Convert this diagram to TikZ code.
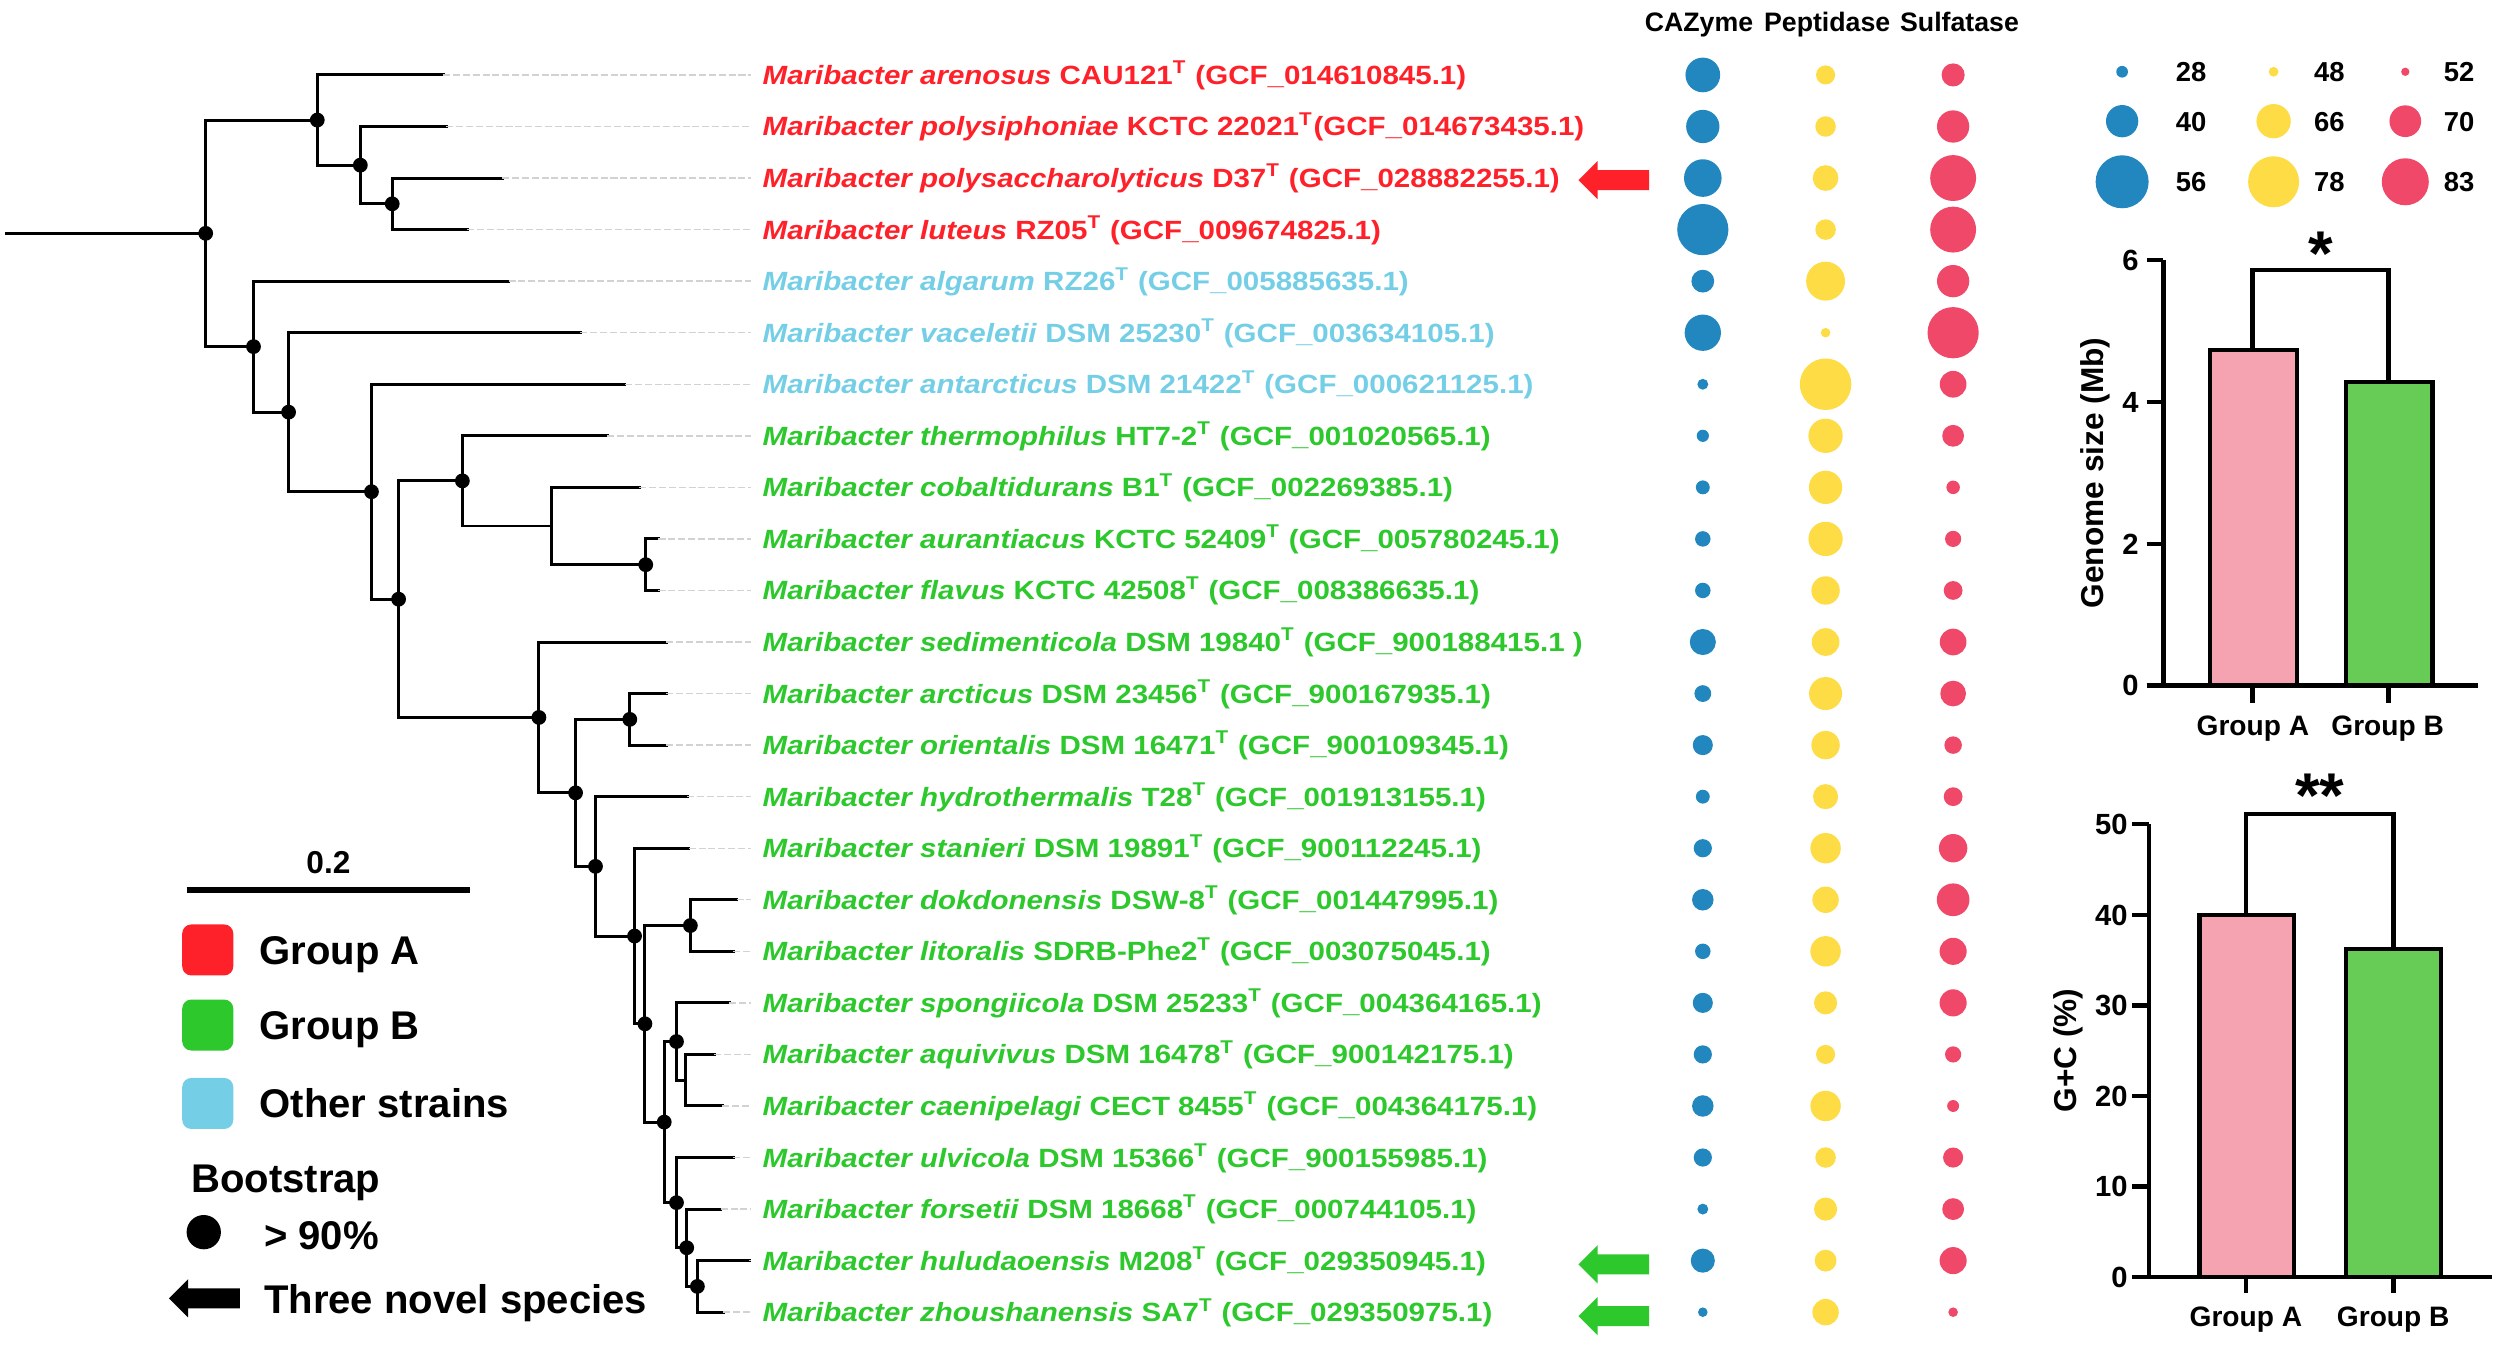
\documentclass[tikz,border=0pt]{standalone}
\usepackage{fontspec}
\setmainfont{Liberation Sans}
\newfontfamily\taxfont[FakeStretch=1.12]{Liberation Sans}
\usetikzlibrary{positioning}

\definecolor{grpA}{HTML}{FF2129}
\definecolor{grpB}{HTML}{2CC82C}
\definecolor{grpO}{HTML}{74CFE6}
\definecolor{cazy}{HTML}{2187BE}
\definecolor{pept}{HTML}{FDDC46}
\definecolor{sulf}{HTML}{EF4868}
\definecolor{barA}{HTML}{F5A3B1}
\definecolor{barB}{HTML}{66CC55}

\tikzset{
  branch/.style={line width=0.85pt, line cap=rect},
  leader/.style={gray!35, line width=0.4pt, dash pattern=on 2pt off 0.8pt},
  taxon/.style={anchor=west, inner xsep=1.1mm, inner ysep=0pt, text height=5.4pt, text depth=0pt,
    font=\taxfont\fontsize{7.5}{9}\selectfont\bfseries},
  colhead/.style={inner sep=0pt, text height=5.44pt, text depth=0pt, font=\fontsize{7.6}{9}\selectfont\bfseries},
  sizenum/.style={anchor=west, inner sep=0pt, text height=5.6pt, text depth=0pt, font=\fontsize{7.8}{9}\selectfont\bfseries},
  legsq/.style={rounded corners=0.9mm, minimum size=5.1mm, inner sep=0pt},
  legtext/.style={anchor=west, inner sep=0pt, text height=8.2pt, text depth=0pt, font=\fontsize{11.4}{13}\selectfont\bfseries},
  axisline/.style={line width=1.2pt},
  ticklab/.style={anchor=east, inner sep=0pt, text height=5.9pt, text depth=0pt, font=\fontsize{8.3}{10}\selectfont\bfseries},
  grouplab/.style={inner sep=0pt, text height=5.7pt, text depth=0pt, font=\fontsize{8}{10}\selectfont\bfseries},
  axtitle/.style={rotate=90, inner sep=0pt, font=\fontsize{9}{11}\selectfont\bfseries},
  signif/.style={anchor=base, inner sep=0pt, font=\fontsize{18}{20}\selectfont\bfseries},
}

% species label: name, strain, accession
\newcommand{\taxon}[3]{\textit{Maribacter #1} #2\textsuperscript{T} (#3)}
% block arrow pointing left, tip at (#1,#2)
\newcommand{\novelarrow}[3]{\fill[#3] (#1,#2) -- ++(12,-12) -- ++(0,5.7) -- ++(32.4,0) -- ++(0,12.6) -- ++(-32.4,0) -- ++(0,5.7) -- cycle;}

\begin{document}
\begin{tikzpicture}[x=0.15944mm,y=-0.15944mm]
\useasboundingbox (0,0) rectangle (1568,850);

%% tree tips
\foreach \i/\x in {1/278, 2/280, 3/315, 4/293, 5/319, 6/364, 7/392, 8/381, 9/401, 10/413,
  11/413, 12/418, 13/418, 14/418, 15/431, 16/432, 17/462, 18/460, 19/457.5, 20/448,
  21/453, 22/460, 23/452, 24/470, 25/453.7}
  \coordinate (t\i) at (\x,{47+(\i-1)*32.333});

%% inner nodes
\coordinate (root) at (4,146.35);
\foreach \n/\x/\y in {n1/129/146.35, n2/199/75.29, n3/226/103.58, n4/246/127.83, n5/159/217.4,
  n6/181/258.5, n7/233/308.4, n8/250/375.8, n9/290/301.6, m1/346/329.9, n10/405/354.17,
  n11/338/449.97, n12/361/497.27, n13/395/451.17, n14/373.5/543.37, n15/398/587.07,
  n16/404.5/642.13, n17/433/580.5, n18/416.6/703.77, n19/424.3/653.25, m2/430/677.5,
  n20/424.3/754.29, n21/430.7/782.58, n22/437.4/806.83}
  \coordinate (\n) at (\x,\y);

\draw[branch] (root) -- (n1);
\foreach \p/\c in {n1/n2, n1/n5, n2/t1, n2/n3, n3/t2, n3/n4, n4/t3, n4/t4, n5/t5, n5/n6,
  n6/t6, n6/n7, n7/t7, n7/n8, n8/n9, n8/n11, n9/t8, n9/m1, m1/t9, m1/n10, n10/t10, n10/t11,
  n11/t12, n11/n12, n12/n13, n12/n14, n13/t13, n13/t14, n14/t15, n14/n15, n15/t16, n15/n16,
  n16/n17, n16/n18, n17/t17, n17/t18, n18/n19, n18/n20, n19/t19, n19/m2, m2/t20, m2/t21,
  n20/t22, n20/n21, n21/t23, n21/n22, n22/t24, n22/t25}
  \draw[branch] (\p) |- (\c);

% bootstrap > 90%
\foreach \n in {n1,n2,n3,n4,n5,n6,n7,n8,n9,n10,n11,n12,n13,n14,n15,n16,n17,n18,n19,n20,n21,n22}
  \fill (\n) circle[radius=0.74mm];

%% labels
\node[taxon, text=grpA] (lab1) at (471,0 |- t1) {\taxon{arenosus}{CAU121}{GCF\_014610845.1}};
\node[taxon, text=grpA] (lab2) at (471,0 |- t2) {\textit{Maribacter polysiphoniae} KCTC 22021\textsuperscript{T}(GCF\_014673435.1)};
\node[taxon, text=grpA] (lab3) at (471,0 |- t3) {\taxon{polysaccharolyticus}{D37}{GCF\_028882255.1}};
\node[taxon, text=grpA] (lab4) at (471,0 |- t4) {\taxon{luteus}{RZ05}{GCF\_009674825.1}};
\node[taxon, text=grpO] (lab5) at (471,0 |- t5) {\taxon{algarum}{RZ26}{GCF\_005885635.1}};
\node[taxon, text=grpO] (lab6) at (471,0 |- t6) {\taxon{vaceletii}{DSM 25230}{GCF\_003634105.1}};
\node[taxon, text=grpO] (lab7) at (471,0 |- t7) {\taxon{antarcticus}{DSM 21422}{GCF\_000621125.1}};
\node[taxon, text=grpB] (lab8) at (471,0 |- t8) {\taxon{thermophilus}{HT7-2}{GCF\_001020565.1}};
\node[taxon, text=grpB] (lab9) at (471,0 |- t9) {\taxon{cobaltidurans}{B1}{GCF\_002269385.1}};
\node[taxon, text=grpB] (lab10) at (471,0 |- t10) {\taxon{aurantiacus}{KCTC 52409}{GCF\_005780245.1}};
\node[taxon, text=grpB] (lab11) at (471,0 |- t11) {\taxon{flavus}{KCTC 42508}{GCF\_008386635.1}};
\node[taxon, text=grpB] (lab12) at (471,0 |- t12) {\taxon{sedimenticola}{DSM 19840}{GCF\_900188415.1 }};
\node[taxon, text=grpB] (lab13) at (471,0 |- t13) {\taxon{arcticus}{DSM 23456}{GCF\_900167935.1}};
\node[taxon, text=grpB] (lab14) at (471,0 |- t14) {\taxon{orientalis}{DSM 16471}{GCF\_900109345.1}};
\node[taxon, text=grpB] (lab15) at (471,0 |- t15) {\taxon{hydrothermalis}{T28}{GCF\_001913155.1}};
\node[taxon, text=grpB] (lab16) at (471,0 |- t16) {\taxon{stanieri}{DSM 19891}{GCF\_900112245.1}};
\node[taxon, text=grpB] (lab17) at (471,0 |- t17) {\taxon{dokdonensis}{DSW-8}{GCF\_001447995.1}};
\node[taxon, text=grpB] (lab18) at (471,0 |- t18) {\taxon{litoralis}{SDRB-Phe2}{GCF\_003075045.1}};
\node[taxon, text=grpB] (lab19) at (471,0 |- t19) {\taxon{spongiicola}{DSM 25233}{GCF\_004364165.1}};
\node[taxon, text=grpB] (lab20) at (471,0 |- t20) {\taxon{aquivivus}{DSM 16478}{GCF\_900142175.1}};
\node[taxon, text=grpB] (lab21) at (471,0 |- t21) {\taxon{caenipelagi}{CECT 8455}{GCF\_004364175.1}};
\node[taxon, text=grpB] (lab22) at (471,0 |- t22) {\taxon{ulvicola}{DSM 15366}{GCF\_900155985.1}};
\node[taxon, text=grpB] (lab23) at (471,0 |- t23) {\taxon{forsetii}{DSM 18668}{GCF\_000744105.1}};
\node[taxon, text=grpB] (lab24) at (471,0 |- t24) {\taxon{huludaoensis}{M208}{GCF\_029350945.1}};
\node[taxon, text=grpB] (lab25) at (471,0 |- t25) {\taxon{zhoushanensis}{SA7}{GCF\_029350975.1}};

\foreach \i in {1,...,25}
  \draw[leader] (t\i) -- (lab\i.west);

%% novel species
\novelarrow{990}{113}{grpA}
\novelarrow{990}{793}{grpB}
\novelarrow{990}{825.5}{grpB}

%% gene counts
\node[colhead] (hcaz) at (1065.6,13.7) {CAZyme};
\node[colhead] (hpep) at (1146,13.7) {Peptidase};
\node[colhead] (hsul) at (1229,13.7) {Sulfatase};
\foreach \i/\a/\b/\c in {1/34.7/19.1/23.1, 2/33.3/20.5/32.3, 3/37.6/25.7/45.9, 4/51.2/20.5/45.9,
  5/22.8/38.9/32.3, 6/36.3/9.6/51.2, 7/10.9/51.5/26.7, 8/12.2/34.3/21.8, 9/13.9/33.3/13.5,
  10/15.5/34.3/16.2, 11/15.5/28.4/18.8, 12/26.1/27.7/26.7, 13/16.8/33/25.7, 14/20.1/28.4/17.5,
  15/13.9/25.1/18.8, 16/18.2/30.4/28.4, 17/21.5/26.4/32.7, 18/15.5/30.4/27.1, 19/20.1/23.1/27.1,
  20/18.2/19.1/16.2, 21/21.5/30.4/11.9, 22/18.2/20.5/20.1, 23/10.9/23.1/21.8, 24/24.1/21.8/27.1,
  25/9.6/26.4/9.6}
{
  \fill[cazy] (1068,0 |- t\i) circle[radius=\a*0.05mm];
  \fill[pept] (1145,0 |- t\i) circle[radius=\b*0.05mm];
  \fill[sulf] (1225,0 |- t\i) circle[radius=\c*0.05mm];
}

% size key
\foreach \y/\a/\na/\b/\nb/\c/\nc in {45/11.7/28/9.7/48/8.3/52, 76/32.3/40/34.3/66/31.7/70,
  114/53/56/51/78/47/83}
{
  \fill[cazy] (1331,\y) circle[radius=\a*0.05mm];
  \fill[pept] (1426,\y) circle[radius=\b*0.05mm];
  \fill[sulf] (1508.6,\y) circle[radius=\c*0.05mm];
  \node[sizenum] (kc\na) at (1364.2,\y) {\na};
  \node[sizenum] (kp\nb) at (1450.9,\y) {\nb};
  \node[sizenum] (ks\nc) at (1532.4,\y) {\nc};
}

%% legend
\coordinate (sbl) at (117,558.2);
\coordinate (sbr) at (295,558.2);
\draw[line width=1.9pt] (sbl) -- node[above=1.25mm, inner sep=0pt, font=\fontsize{9}{11}\selectfont\bfseries] (sblab) {0.2} (sbr);

\node[legsq, fill=grpA] (sqa) at (130.3,595.8) {};
\node[legsq, fill=grpB] (sqb) at (130.3,642.9) {};
\node[legsq, fill=grpO] (sqo) at (130.3,692.1) {};
\node[legtext, right=2.5mm of sqa] (txa) {Group A};
\node[legtext, right=2.5mm of sqb] (txb) {Group B};
\node[legtext, right=2.5mm of sqo] (txo) {Other strains};

\node[legtext] (bstitle) at (119.5,738.7) {Bootstrap};
\node[circle, fill, minimum size=3.43mm, inner sep=0pt] (bsdot) at (127.8,772.8) {};
\node[legtext] (bstxt) at (165.2,774.6) {> 90\%};
\novelarrow{106}{814.3}{black}
\node[legtext] (nvtxt) at (165.2,814.8) {Three novel species};

%% genome size chart
\draw[axisline, fill=barA] (1386.2,430) rectangle (1440.5,219.6);
\draw[axisline, fill=barB] (1471.2,430) rectangle (1525.6,239.7);
\draw[axisline] (1356.9,163) -- (1356.9,430);
\draw[axisline] (1346.4,430) -- (1554.5,430);
\foreach \v in {0,2,4,6}
{
  \draw[axisline] (1346.4,{430-44.5*\v}) -- (1356.9,{430-44.5*\v});
  \node[ticklab] (gs\v) at (1341.8,{430-44.5*\v}) {\v};
}
\draw[axisline] (1412.7,430) -- (1412.7,440.7);
\draw[axisline] (1498,430) -- (1498,440.7);
\draw[axisline] (1412.7,219.6) -- (1412.7,169.4) -- (1498,169.4) -- (1498,239.7);
\node[signif] (sig1) at (1455.6,172.5) {*};
\node[grouplab] (gsa) at (1413,455) {Group A};
\node[grouplab] (gsb) at (1497.5,455) {Group B};
\node[axtitle] (gsttl) at (1314,296.6) {Genome size (Mb)};

%% G+C chart
\draw[axisline, fill=barA] (1379.5,801) rectangle (1438.8,573.8);
\draw[axisline, fill=barB] (1471.2,801) rectangle (1530.8,595.4);
\draw[axisline] (1347.9,517) -- (1347.9,801);
\draw[axisline] (1337.4,801) -- (1562.8,801);
\foreach \v in {0,10,20,30,40,50}
{
  \draw[axisline] (1337.4,{801-5.68*\v}) -- (1347.9,{801-5.68*\v});
  \node[ticklab] (gc\v) at (1334.9,{801-5.68*\v}) {\v};
}
\draw[axisline] (1408.7,801) -- (1408.7,811);
\draw[axisline] (1501.2,801) -- (1501.2,811);
\draw[axisline] (1408.7,573.8) -- (1408.7,510.4) -- (1501.2,510.4) -- (1501.2,595.4);
\node[signif] (sig2) at (1455,512.5) {**};
\node[grouplab] (gca) at (1408.6,825.6) {Group A};
\node[grouplab] (gcb) at (1501,825.6) {Group B};
\node[axtitle] (gcttl) at (1297.4,658.8) {G+C (\%)};

\end{tikzpicture}
\end{document}
